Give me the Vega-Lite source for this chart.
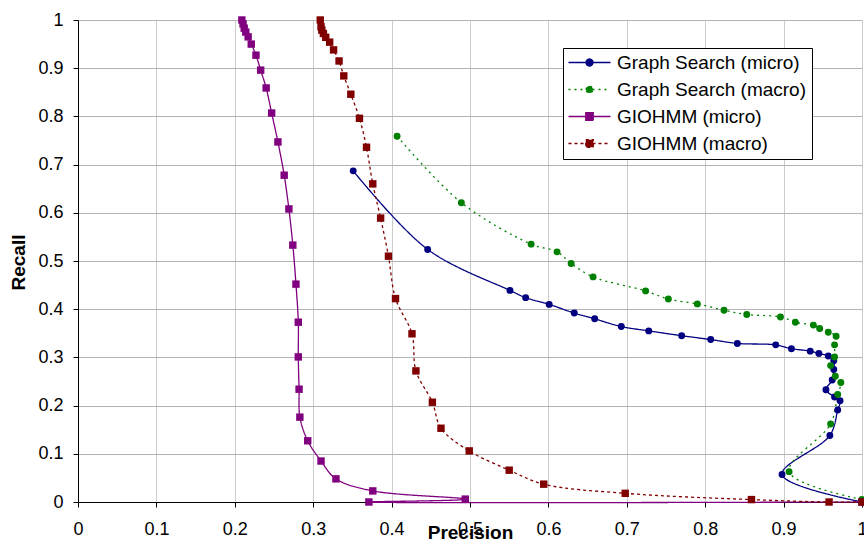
{
  "$schema": "https://vega.github.io/schema/vega-lite/v6.json",
  "width": 784,
  "height": 482,
  "autosize": {"type": "none"},
  "padding": {"left": 78, "top": 20, "right": 2, "bottom": 39},
  "background": "white",
  "config": {
    "view": {"stroke": null},
    "font": "Liberation Sans",
    "axis": {
      "labelFont": "Liberation Sans",
      "titleFont": "Liberation Sans",
      "labelColor": "#000000",
      "titleColor": "#000000",
      "domainColor": "#000000",
      "tickColor": "#000000",
      "labelFontSize": 18,
      "titleFontSize": 19,
      "titleFontWeight": "bold",
      "tickSize": 5
    }
  },
  "data": {
    "values": [
      {"s": "Graph Search (micro)", "i": 0, "p": 0.351, "r": 0.687},
      {"s": "Graph Search (micro)", "i": 1, "p": 0.446, "r": 0.524},
      {"s": "Graph Search (micro)", "i": 2, "p": 0.551, "r": 0.439},
      {"s": "Graph Search (micro)", "i": 3, "p": 0.571, "r": 0.424},
      {"s": "Graph Search (micro)", "i": 4, "p": 0.601, "r": 0.410},
      {"s": "Graph Search (micro)", "i": 5, "p": 0.633, "r": 0.392},
      {"s": "Graph Search (micro)", "i": 6, "p": 0.659, "r": 0.380},
      {"s": "Graph Search (micro)", "i": 7, "p": 0.693, "r": 0.364},
      {"s": "Graph Search (micro)", "i": 8, "p": 0.728, "r": 0.355},
      {"s": "Graph Search (micro)", "i": 9, "p": 0.770, "r": 0.345},
      {"s": "Graph Search (micro)", "i": 10, "p": 0.807, "r": 0.337},
      {"s": "Graph Search (micro)", "i": 11, "p": 0.841, "r": 0.329},
      {"s": "Graph Search (micro)", "i": 12, "p": 0.890, "r": 0.326},
      {"s": "Graph Search (micro)", "i": 13, "p": 0.910, "r": 0.318},
      {"s": "Graph Search (micro)", "i": 14, "p": 0.934, "r": 0.313},
      {"s": "Graph Search (micro)", "i": 15, "p": 0.945, "r": 0.308},
      {"s": "Graph Search (micro)", "i": 16, "p": 0.957, "r": 0.303},
      {"s": "Graph Search (micro)", "i": 17, "p": 0.964, "r": 0.293},
      {"s": "Graph Search (micro)", "i": 18, "p": 0.964, "r": 0.275},
      {"s": "Graph Search (micro)", "i": 19, "p": 0.962, "r": 0.253},
      {"s": "Graph Search (micro)", "i": 20, "p": 0.954, "r": 0.233},
      {"s": "Graph Search (micro)", "i": 21, "p": 0.965, "r": 0.218},
      {"s": "Graph Search (micro)", "i": 22, "p": 0.972, "r": 0.210},
      {"s": "Graph Search (micro)", "i": 23, "p": 0.969, "r": 0.191},
      {"s": "Graph Search (micro)", "i": 24, "p": 0.959, "r": 0.138},
      {"s": "Graph Search (micro)", "i": 25, "p": 0.898, "r": 0.057},
      {"s": "Graph Search (micro)", "i": 26, "p": 1.0, "r": 0.0},
      {"s": "Graph Search (macro)", "i": 0, "p": 0.407, "r": 0.759},
      {"s": "Graph Search (macro)", "i": 1, "p": 0.489, "r": 0.621},
      {"s": "Graph Search (macro)", "i": 2, "p": 0.578, "r": 0.535},
      {"s": "Graph Search (macro)", "i": 3, "p": 0.611, "r": 0.519},
      {"s": "Graph Search (macro)", "i": 4, "p": 0.629, "r": 0.495},
      {"s": "Graph Search (macro)", "i": 5, "p": 0.657, "r": 0.467},
      {"s": "Graph Search (macro)", "i": 6, "p": 0.724, "r": 0.438},
      {"s": "Graph Search (macro)", "i": 7, "p": 0.753, "r": 0.421},
      {"s": "Graph Search (macro)", "i": 8, "p": 0.790, "r": 0.411},
      {"s": "Graph Search (macro)", "i": 9, "p": 0.824, "r": 0.398},
      {"s": "Graph Search (macro)", "i": 10, "p": 0.853, "r": 0.389},
      {"s": "Graph Search (macro)", "i": 11, "p": 0.896, "r": 0.384},
      {"s": "Graph Search (macro)", "i": 12, "p": 0.915, "r": 0.373},
      {"s": "Graph Search (macro)", "i": 13, "p": 0.938, "r": 0.367},
      {"s": "Graph Search (macro)", "i": 14, "p": 0.946, "r": 0.360},
      {"s": "Graph Search (macro)", "i": 15, "p": 0.957, "r": 0.352},
      {"s": "Graph Search (macro)", "i": 16, "p": 0.967, "r": 0.344},
      {"s": "Graph Search (macro)", "i": 17, "p": 0.965, "r": 0.326},
      {"s": "Graph Search (macro)", "i": 18, "p": 0.965, "r": 0.301},
      {"s": "Graph Search (macro)", "i": 19, "p": 0.960, "r": 0.283},
      {"s": "Graph Search (macro)", "i": 20, "p": 0.966, "r": 0.261},
      {"s": "Graph Search (macro)", "i": 21, "p": 0.973, "r": 0.248},
      {"s": "Graph Search (macro)", "i": 22, "p": 0.969, "r": 0.223},
      {"s": "Graph Search (macro)", "i": 23, "p": 0.960, "r": 0.162},
      {"s": "Graph Search (macro)", "i": 24, "p": 0.907, "r": 0.063},
      {"s": "Graph Search (macro)", "i": 25, "p": 1.0, "r": 0.005},
      {"s": "GIOHMM (micro)", "i": 0, "p": 0.209, "r": 1.0},
      {"s": "GIOHMM (micro)", "i": 1, "p": 0.2105, "r": 0.992},
      {"s": "GIOHMM (micro)", "i": 2, "p": 0.212, "r": 0.983},
      {"s": "GIOHMM (micro)", "i": 3, "p": 0.214, "r": 0.975},
      {"s": "GIOHMM (micro)", "i": 4, "p": 0.217, "r": 0.965},
      {"s": "GIOHMM (micro)", "i": 5, "p": 0.221, "r": 0.950},
      {"s": "GIOHMM (micro)", "i": 6, "p": 0.227, "r": 0.927},
      {"s": "GIOHMM (micro)", "i": 7, "p": 0.233, "r": 0.896},
      {"s": "GIOHMM (micro)", "i": 8, "p": 0.240, "r": 0.859},
      {"s": "GIOHMM (micro)", "i": 9, "p": 0.247, "r": 0.807},
      {"s": "GIOHMM (micro)", "i": 10, "p": 0.255, "r": 0.747},
      {"s": "GIOHMM (micro)", "i": 11, "p": 0.263, "r": 0.678},
      {"s": "GIOHMM (micro)", "i": 12, "p": 0.269, "r": 0.608},
      {"s": "GIOHMM (micro)", "i": 13, "p": 0.274, "r": 0.533},
      {"s": "GIOHMM (micro)", "i": 14, "p": 0.278, "r": 0.452},
      {"s": "GIOHMM (micro)", "i": 15, "p": 0.281, "r": 0.373},
      {"s": "GIOHMM (micro)", "i": 16, "p": 0.281, "r": 0.301},
      {"s": "GIOHMM (micro)", "i": 17, "p": 0.282, "r": 0.234},
      {"s": "GIOHMM (micro)", "i": 18, "p": 0.283, "r": 0.176},
      {"s": "GIOHMM (micro)", "i": 19, "p": 0.293, "r": 0.127},
      {"s": "GIOHMM (micro)", "i": 20, "p": 0.310, "r": 0.085},
      {"s": "GIOHMM (micro)", "i": 21, "p": 0.329, "r": 0.048},
      {"s": "GIOHMM (micro)", "i": 22, "p": 0.376, "r": 0.023},
      {"s": "GIOHMM (micro)", "i": 23, "p": 0.494, "r": 0.006},
      {"s": "GIOHMM (micro)", "i": 24, "p": 0.371, "r": 0.0},
      {"s": "GIOHMM (micro)", "i": 25, "p": 1.0, "r": 0.0},
      {"s": "GIOHMM (macro)", "i": 0, "p": 0.309, "r": 1.0},
      {"s": "GIOHMM (macro)", "i": 1, "p": 0.310, "r": 0.986},
      {"s": "GIOHMM (macro)", "i": 2, "p": 0.311, "r": 0.979},
      {"s": "GIOHMM (macro)", "i": 3, "p": 0.313, "r": 0.972},
      {"s": "GIOHMM (macro)", "i": 4, "p": 0.316, "r": 0.964},
      {"s": "GIOHMM (macro)", "i": 5, "p": 0.321, "r": 0.954},
      {"s": "GIOHMM (macro)", "i": 6, "p": 0.326, "r": 0.938},
      {"s": "GIOHMM (macro)", "i": 7, "p": 0.333, "r": 0.915},
      {"s": "GIOHMM (macro)", "i": 8, "p": 0.339, "r": 0.884},
      {"s": "GIOHMM (macro)", "i": 9, "p": 0.348, "r": 0.846},
      {"s": "GIOHMM (macro)", "i": 10, "p": 0.359, "r": 0.796},
      {"s": "GIOHMM (macro)", "i": 11, "p": 0.368, "r": 0.736},
      {"s": "GIOHMM (macro)", "i": 12, "p": 0.376, "r": 0.660},
      {"s": "GIOHMM (macro)", "i": 13, "p": 0.386, "r": 0.589},
      {"s": "GIOHMM (macro)", "i": 14, "p": 0.396, "r": 0.510},
      {"s": "GIOHMM (macro)", "i": 15, "p": 0.405, "r": 0.422},
      {"s": "GIOHMM (macro)", "i": 16, "p": 0.426, "r": 0.349},
      {"s": "GIOHMM (macro)", "i": 17, "p": 0.431, "r": 0.272},
      {"s": "GIOHMM (macro)", "i": 18, "p": 0.452, "r": 0.207},
      {"s": "GIOHMM (macro)", "i": 19, "p": 0.463, "r": 0.153},
      {"s": "GIOHMM (macro)", "i": 20, "p": 0.499, "r": 0.106},
      {"s": "GIOHMM (macro)", "i": 21, "p": 0.550, "r": 0.066},
      {"s": "GIOHMM (macro)", "i": 22, "p": 0.594, "r": 0.037},
      {"s": "GIOHMM (macro)", "i": 23, "p": 0.698, "r": 0.018},
      {"s": "GIOHMM (macro)", "i": 24, "p": 0.859, "r": 0.005},
      {"s": "GIOHMM (macro)", "i": 25, "p": 0.958, "r": 0.0},
      {"s": "GIOHMM (macro)", "i": 26, "p": 1.0, "r": 0.0}
    ]
  },
  "encoding": {
    "x": {
      "field": "p", "type": "quantitative",
      "scale": {"domain": [0, 1], "nice": false, "zero": false},
      "axis": {
        "title": "Precision",
        "values": [0, 0.1, 0.2, 0.3, 0.4, 0.5, 0.6, 0.7, 0.8, 0.9, 1],
        "format": "~g",
        "labelPadding": 13,
        "gridColor": "#cccccc",
        "titleY": 30,
        "titleBaseline": "middle",
        "labelFlush": false,
        "labelOverlap": false
      }
    },
    "y": {
      "field": "r", "type": "quantitative",
      "scale": {"domain": [0, 1], "nice": false, "zero": false},
      "axis": {
        "title": "Recall",
        "values": [0, 0.1, 0.2, 0.3, 0.4, 0.5, 0.6, 0.7, 0.8, 0.9, 1],
        "format": "~g",
        "labelPadding": 10,
        "gridColor": "#b4b4b4",
        "titleX": -60,
        "titleY": 242,
        "titleAngle": -90,
        "titleBaseline": "middle",
        "titleAlign": "center",
        "labelFlush": false,
        "labelOverlap": false
      }
    },
    "color": {
      "field": "s", "type": "nominal",
      "scale": {
        "domain": ["Graph Search (micro)", "Graph Search (macro)", "GIOHMM (micro)", "GIOHMM (macro)"],
        "range": ["#000080", "#008000", "#800080", "#800000"]
      },
      "legend": {
        "title": null,
        "orient": "none",
        "legendX": 485,
        "legendY": 28,
        "padding": 5,
        "fillColor": "white",
        "strokeColor": "#000000",
        "labelFont": "Liberation Sans",
        "labelFontSize": 19,
        "labelColor": "#000000",
        "labelLimit": 300,
        "rowPadding": 7,
        "symbolSize": 100,
        "symbolStrokeWidth": 1.3,
        "symbolOffset": 12,
        "labelOffset": 18,
        "encode": {
          "symbols": {
            "update": {
              "shape": {"signal": "indexof(datum.value, 'Graph') == 0 ? 'M-4.2,0H4.2M-0.7,0A0.7,0.7 0 1 1 0.7,0A0.7,0.7 0 1 1 -0.7,0Z' : 'M-4.2,0H4.2M-0.75,-0.75H0.75V0.75H-0.75Z'"},
              "strokeDash": {"signal": "indexof(datum.value, 'macro') >= 0 ? [2, 3] : [1, 0]"},
              "fill": {"scale": "color", "field": "value"},
              "stroke": {"scale": "color", "field": "value"},
              "fillOpacity": {"value": 1},
              "strokeOpacity": {"value": 1},
              "opacity": {"value": 1}
            }
          }
        }
      }
    },
    "order": {"field": "i", "type": "quantitative"}
  },
  "layer": [
    {
      "mark": {"type": "line", "interpolate": "catmull-rom", "strokeWidth": 1.3},
      "encoding": {
        "strokeDash": {
          "field": "s", "type": "nominal",
          "scale": {
            "domain": ["Graph Search (micro)", "Graph Search (macro)", "GIOHMM (micro)", "GIOHMM (macro)"],
            "range": [[1, 0], [2, 4], [1, 0], [3, 3]]
          },
          "legend": null
        }
      }
    },
    {
      "transform": [{"filter": "indexof(datum.s, 'Graph') == 0"}],
      "mark": {"type": "point", "shape": "circle", "filled": true, "size": 48, "opacity": 1}
    },
    {
      "transform": [{"filter": "indexof(datum.s, 'GIOHMM') == 0"}],
      "mark": {"type": "point", "shape": "square", "filled": true, "size": 55, "opacity": 1}
    }
  ]
}
